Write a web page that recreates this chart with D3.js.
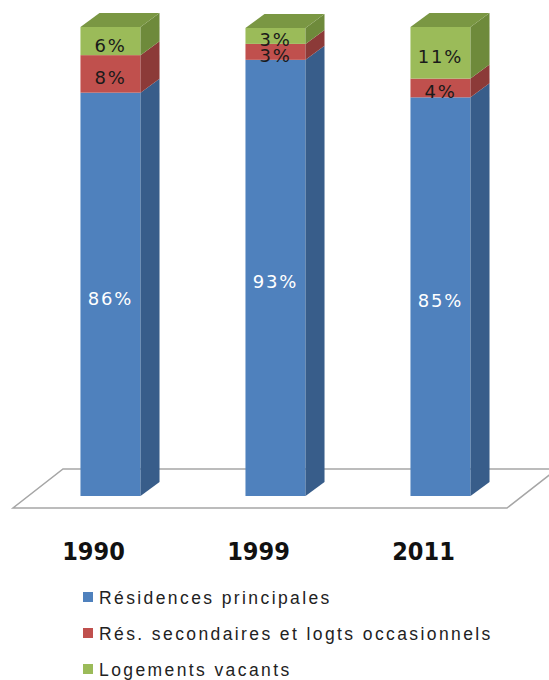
<!DOCTYPE html>
<html>
<head>
<meta charset="utf-8">
<script src="https://cdn.jsdelivr.net/npm/d3@7"></script>
<style>
  body { margin: 0; background: #fff; }
</style>
</head>
<body>
<div id="chart"></div>
<script>
const years = ['1990', '1999', '2011']
const seriesNames = ['Résidences principales', 'Rés. secondaires et logts occasionnels', 'Logements vacants']
const principales = [86, 93, 85]
const secondaires = [8, 3.4, 4]
const vacants = [6, 3.4, 11]

const fronts = ['#4f81bd', '#c0504d', '#9bbb59']
const sides = ['#385d8a', '#8c3a38', '#6e8a3b']
const topColor = '#7a9743'
const labelColors = ['#ffffff', '#1a1a1a', '#1a1a1a']

const svgWidth = 549, svgHeight = 680
const depthX = 19, depthY = 14

let svg = d3.select('#chart')
    .append('svg')
    .attr('width', svgWidth)
    .attr('height', svgHeight)

let rows = years.map((y, i) => ({year: y, s0: principales[i], s1: secondaires[i], s2: vacants[i]}))

let stack = d3.stack().keys(['s0', 's1', 's2'])(rows)

let x = d3.scaleBand()
    .domain(years)
    .range([28, 523])
    .paddingInner(0.636)
    .paddingOuter(0.318)

let y = d3.scaleLinear()
    .domain([0, 100])
    .range([496, 27])

// floor
let r = x.range(), base = y(0)
let floorGroup = svg.append('g')
floorGroup.append('polygon')
    .attr('points', [[r[0] - 15, base + 12], [r[1] - 16, base + 12], [r[1] + 34, base - 27], [r[0] + 35, base - 27]].join(' '))
    .attr('fill', '#fff')
    .attr('stroke', '#a6a6a6')
    .attr('stroke-width', 1.5)

let barGroup = svg.append('g')
const w = x.bandwidth()

stack.forEach((layer, li) => {
    let g = barGroup.append('g')
    g.selectAll('rect')
        .data(layer)
        .join('rect')
        .attr('x', d => x(d.data.year))
        .attr('y', d => y(d[1]))
        .attr('width', w)
        .attr('height', d => y(d[0]) - y(d[1]))
        .attr('fill', fronts[li])

    g.selectAll('polygon')
        .data(layer)
        .join('polygon')
        .attr('points', d => {
            let x1 = x(d.data.year) + w
            return [[x1, y(d[1])], [x1 + depthX, y(d[1]) - depthY], [x1 + depthX, y(d[0]) - depthY], [x1, y(d[0])]].join(' ')
        })
        .attr('fill', sides[li])
})

// top faces
let topLayer = stack[stack.length - 1]
barGroup.append('g')
    .selectAll('polygon')
    .data(topLayer)
    .join('polygon')
    .attr('points', d => {
        let x0 = x(d.data.year), yt = y(d[1])
        return [[x0, yt], [x0 + depthX, yt - depthY], [x0 + w + depthX, yt - depthY], [x0 + w, yt]].join(' ')
    })
    .attr('fill', topColor)

// value labels
let labelGroup = svg.append('g')
stack.forEach((layer, li) => {
    labelGroup.append('g')
        .selectAll('text')
        .data(layer)
        .join('text')
        .attr('x', d => x(d.data.year) + w / 2)
        .attr('y', d => (y(d[0]) + y(d[1])) / 2 + 4)
        .attr('text-anchor', 'middle')
        .attr('dominant-baseline', 'central')
        .attr('font-family', 'DejaVu Sans, sans-serif')
        .attr('font-size', 18)
        .attr('letter-spacing', 1.8)
        .attr('fill', labelColors[li])
        .text(d => Math.round(d[1] - d[0]) + '%')
})

// year labels
svg.append('g')
    .selectAll('text')
    .data(years)
    .join('text')
    .attr('x', d => x(d) + w / 2 - 17)
    .attr('y', 560)
    .attr('text-anchor', 'middle')
    .attr('font-family', "'Liberation Sans Narrow', 'DejaVu Sans Condensed', sans-serif")
    .attr('font-weight', 'bold')
    .attr('font-size', 25)
    .attr('fill', '#111')
    .text(d => d)

// legend
let legendGroup = svg.append('g')
legendGroup.selectAll('rect')
    .data(seriesNames)
    .join('rect')
    .attr('x', 83)
    .attr('y', (d, i) => 592 + i * 36)
    .attr('width', 10)
    .attr('height', 10)
    .attr('fill', (d, i) => fronts[i])

legendGroup.selectAll('text')
    .data(seriesNames)
    .join('text')
    .attr('x', 99)
    .attr('y', (d, i) => 604 + i * 36)
    .attr('font-family', 'Liberation Sans, Arial, sans-serif')
    .attr('font-size', 17.5)
    .attr('letter-spacing', 2.4)
    .attr('fill', '#222')
    .text(d => d)
</script>
</body>
</html>
